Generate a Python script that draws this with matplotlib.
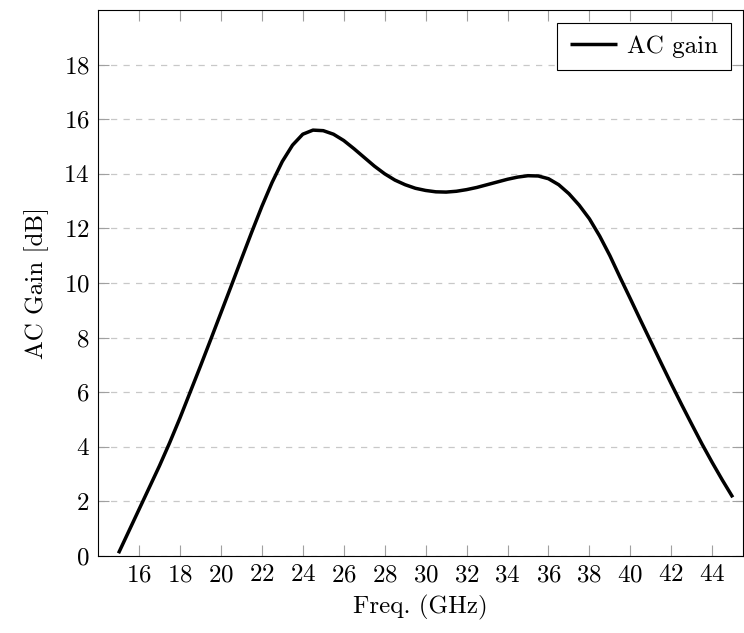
import numpy as np
import matplotlib.pyplot as plt

plt.rcParams['font.family'] = ['cmr10', 'DejaVu Serif']
plt.rcParams['axes.formatter.use_mathtext'] = True
plt.rcParams['mathtext.fontset'] = 'cm'

# frequency (GHz) and AC gain (dB)
freq = [15, 15.5, 16, 16.5, 17, 17.5, 18, 18.5, 19, 19.5, 20, 20.5, 21, 21.5,
        22, 22.5, 23, 23.5, 24, 24.5, 25, 25.5, 26, 26.5, 27, 27.5, 28, 28.5,
        29, 29.5, 30, 30.5, 31, 31.5, 32, 32.5, 33, 33.5, 34, 34.5, 35, 35.5,
        36, 36.5, 37, 37.5, 38, 38.5, 39, 39.5, 40, 40.5, 41, 41.5, 42, 42.5,
        43, 43.5, 44, 44.5, 45]
gain = [0.1, 0.9, 1.7, 2.5, 3.3, 4.15, 5.05, 6.0, 6.95, 7.92, 8.9, 9.88, 10.87, 11.85,
        12.8, 13.68, 14.45, 15.05, 15.45, 15.6, 15.58, 15.45, 15.22, 14.92, 14.6, 14.28, 14.0, 13.77,
        13.6, 13.47, 13.39, 13.34, 13.33, 13.36, 13.42, 13.5, 13.6, 13.7, 13.8, 13.88, 13.93, 13.92,
        13.82, 13.6, 13.27, 12.85, 12.35, 11.72, 11.0, 10.2, 9.42, 8.63, 7.85, 7.07, 6.3, 5.55,
        4.82, 4.1, 3.42, 2.77, 2.15]

xticks = np.arange(16, 45, 2)
yticks = np.arange(0, 19, 2)

fig = plt.figure(figsize=(7.44, 6.33), dpi=100)
ax = fig.add_axes([98 / 744, 1 - 556 / 633, 645 / 744, 546 / 633])

ax.plot(freq, gain, color='black', linewidth=2.5, label='AC gain',
        solid_joinstyle='round', solid_capstyle='butt')

ax.set_xlim(14, 45.5)
ax.set_ylim(0, 20)
ax.set_xticks(xticks)
ax.set_yticks(yticks)
ax.tick_params(direction='in', length=8, width=0.8, color='#a0a0a0',
               top=True, right=True, labelsize=18, pad=6)
ax.grid(axis='y', color='#c8c8c8', linestyle=(0, (5, 5)), linewidth=0.9)
ax.set_axisbelow(True)
for s in ax.spines.values():
    s.set_linewidth(0.8)
    s.set_color('black')

ax.set_xlabel('Freq. (GHz)', fontsize=18, labelpad=6)
ax.set_ylabel('AC Gain [dB]', fontsize=18, labelpad=10)

leg = ax.legend(loc='upper right', fontsize=18, fancybox=False, framealpha=1,
                edgecolor='black', handlelength=1.9, handletextpad=0.4,
                borderpad=0.5, borderaxespad=0.5)
leg.get_frame().set_linewidth(0.8)

fig.savefig('out.png', dpi=100)
